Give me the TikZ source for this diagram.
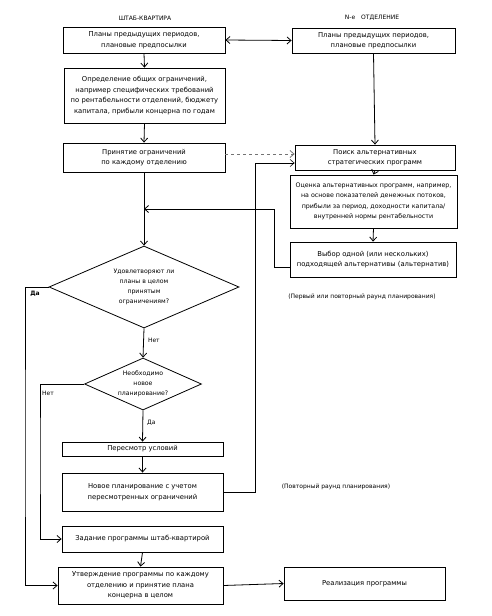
\documentclass[tikz,border=0pt]{standalone}
\usepackage{fontspec}
\setmainfont{DejaVu Sans}
\usetikzlibrary{shapes.geometric,arrows.meta}
\begin{document}
\begin{tikzpicture}[x=1pt,y=-1pt,
  box/.style={draw,line width=0.8pt,inner sep=1pt,align=center,font=\fontsize{6.8}{10.5}\selectfont},
  dec/.style={draw,diamond,line width=0.8pt,inner sep=0pt,align=center,font=\fontsize{6.2}{10}\selectfont},
  arr/.style={-{Straight Barb[length=4pt,width=7pt]},line width=0.8pt},
  lbl/.style={font=\fontsize{6}{8}\selectfont,inner sep=1pt},
  hdr/.style={font=\fontsize{6}{8}\selectfont,inner sep=1pt}]
\useasboundingbox[fill=white] (0,0) rectangle (492,616);

\node[hdr] (h1) at (145,18) {ШТАБ-КВАРТИРА};
\node[hdr] (h2) at (372,18) {N-е\quad ОТДЕЛЕНИЕ};

\node[box,minimum width=162pt,minimum height=26pt] (A) at (144,40) {Планы предыдущих периодов,\\плановые предпосылки};
\node[box,minimum width=163pt,minimum height=25pt] (B) at (373.5,40.5) {Планы предыдущих периодов,\\плановые предпосылки};
\node[box,minimum width=161pt,minimum height=55pt] (C) at (144.5,95.5) {Определение общих ограничений,\\например специфических требований\\по рентабельности отделений, бюджету\\капитала, прибыли концерна по годам};
\node[box,minimum width=162pt,minimum height=29pt] (D) at (144,157.5) {Принятие ограничений\\по каждому отделению};
\node[box,minimum width=160pt,minimum height=25pt] (E) at (375,157.5) {Поиск альтернативных\\стратегических программ};
\node[box,minimum width=167pt,minimum height=53pt,font=\fontsize{6.3}{10.5}\selectfont] (F) at (373.5,201.5) {Оценка альтернативных программ, например,\\на основе показателей денежных потоков,\\прибыли за период, доходности капитала/\\внутренней нормы рентабельности};
\node[box,minimum width=166pt,minimum height=35pt] (G) at (373,259.5) {Выбор одной (или нескольких)\\подходящей альтернативы (альтернатив)};
\node[lbl] (r1) at (362,297) {(Первый или повторный раунд планирования)};

\node[dec,minimum width=190pt,minimum height=82pt,aspect=2.3] (d1) at (144,287) {Удовлетворяют ли\\планы в целом\\принятым\\ограничениям?};
\node[dec,minimum width=117pt,minimum height=52pt,aspect=2.25] (d2) at (143,384) {Необходимо\\новое\\планирование?};

\node[box,minimum width=161pt,minimum height=14pt] (H) at (142.5,449) {Пересмотр условий};
\node[box,minimum width=161pt,minimum height=38pt] (I) at (142.5,492) {Новое планирование с учетом\\пересмотренных ограничений};
\node[lbl] (r2) at (336,487) {(Повторный раунд планирования)};
\node[box,minimum width=161pt,minimum height=26pt] (J) at (142.5,539) {Задание программы штаб-квартирой};
\node[box,minimum width=165pt,minimum height=37pt] (K) at (140.5,585.5) {Утверждение программы по каждому\\отделению и принятие плана\\концерна в целом};
\node[box,minimum width=161pt,minimum height=33pt] (L) at (364.5,583.5) {Реализация программы};

% connectors
\draw[{Straight Barb[length=4pt,width=7pt]}-{Straight Barb[length=4pt,width=7pt]},line width=0.8pt] (A.east) -- (B.west);
\draw[arr] (A.south) -- (C.north);
\draw[arr] (C.south) -- (D.north);
\draw[arr] (B.south) -- (E.north);
\draw[arr] (E.south) -- (F.north);
\draw[arr] (F.south) -- (G.north);
\draw[arr,dashed,draw=black!55] ([yshift=3.5pt]D.east) -- ([yshift=3.5pt]E.west);

\coordinate (m1) at (144,209);
\coordinate (g1) at (274,209);
\draw[arr] (D.south) -- (d1.north);
\draw[arr] ([yshift=-7.5pt]G.west) -| (g1) -- (m1);

\coordinate (c2) at (255,163);
\draw[arr,line width=0.6pt] (I.east) -| (c2) -- ([yshift=-5.5pt]E.west);

\draw[arr] (d1.south) -- node[lbl,right=3pt,pos=0.4] (n1) {Нет} (d2.north);
\draw[arr] (d2.south) -- node[lbl,right=3pt,pos=0.4] (y2) {Да} (H.north);
\draw[arr] (H.south) -- (I.north);
\draw[arr] (J.south) -- (K.north);
\draw[arr] (K.east) -- (L.west);

\coordinate (c3) at (25,450);
\coordinate (c4) at (40,450);
\draw[arr] (d1.west) -| (c3) |- (K.west);
\draw[arr] (d2.west) -| (c4) |- (J.west);
\node[lbl,font=\fontsize{6}{8}\bfseries] (y1) at (35,294) {Да};
\node[lbl] (n2) at (48,393) {Нет};
\end{tikzpicture}
\end{document}
